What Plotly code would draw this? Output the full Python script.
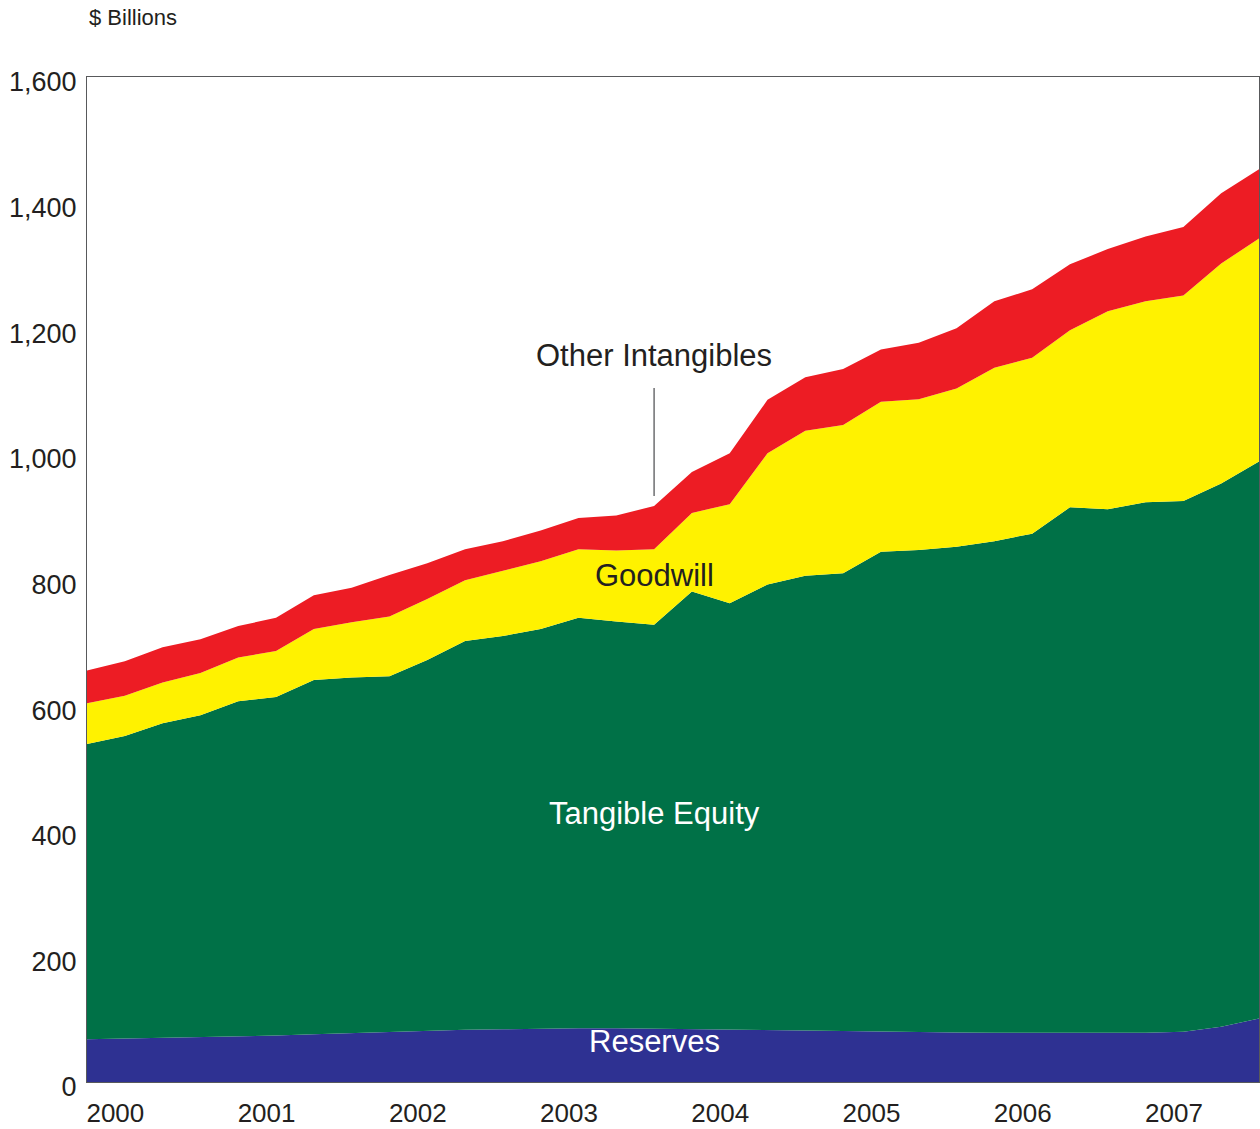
import plotly.graph_objects as go

quarters = list(range(32))
year_labels = ["2000", "2001", "2002", "2003", "2004", "2005", "2006", "2007"]
year_tick_pos = [0.75 + 4 * k for k in range(8)]

reserves = [68, 69, 70.5, 72, 73, 74, 76, 78, 80, 82, 83, 84, 85, 85.5, 85.5, 85,
            84.5, 84, 83.5, 82, 81, 80, 79, 79, 78.5, 78.5, 78.5, 78.5, 78.5, 80, 88, 101]
tangible_equity = [470, 482, 500.5, 512, 533, 539, 564, 566, 566, 590, 619, 626, 636, 653.5, 647.5, 643,
                   696.5, 678, 708.5, 724, 729, 764, 768, 773, 782.5, 794.5, 836.5, 833.5, 844.5, 845, 865, 887]
goodwill = [65, 64, 65, 67, 70, 73, 81, 88, 95, 97, 97, 104, 108, 109, 113, 120,
            125, 158, 209, 231, 236, 239, 240, 252, 276, 280, 282, 315, 320, 327, 350, 355]
other_intangibles = [52, 55, 56, 54, 50, 53, 54, 55, 66, 57, 49, 47, 49, 50, 56, 69,
                     65, 81, 85, 85, 89, 83, 90, 96, 106, 109, 105, 99, 103, 109, 112, 110]

series = [
    ("Reserves", reserves, "#2E3192"),
    ("Tangible Equity", tangible_equity, "#007147"),
    ("Goodwill", goodwill, "#FFF200"),
    ("Other Intangibles", other_intangibles, "#ED1C24"),
]

fig = go.Figure()
for name, vals, color in series:
    fig.add_trace(go.Scatter(
        x=quarters, y=vals, name=name, stackgroup="one", mode="lines",
        line=dict(width=0, color=color), fillcolor=color, hoverinfo="x+y+name"))

FONT = "Liberation Sans, Arial, sans-serif"
labels = [
    ("Other Intangibles", 15, 1156, "#231F20"),
    ("Goodwill", 15, 807, "#231F20"),
    ("Tangible Equity", 15, 428, "#FFFFFF"),
    ("Reserves", 15, 64, "#FFFFFF"),
]
for text, x, y, c in labels:
    fig.add_annotation(x=x, y=y, xref="x", yref="y", text=text, showarrow=False,
                       font=dict(family=FONT, size=31, color=c))

fig.add_shape(type="line", xref="x", yref="y", x0=15, x1=15, y0=933, y1=1105,
              line=dict(color="#6D6E71", width=1.5))

fig.add_annotation(x=0, y=1, xref="paper", yref="paper", yshift=60, xanchor="left", yanchor="middle",
                   text="$ Billions", showarrow=False, font=dict(family=FONT, size=22, color="#231F20"))

fig.update_layout(
    width=1260, height=1129,
    margin=dict(l=87, r=1, t=77, b=47, autoexpand=False),
    paper_bgcolor="white", plot_bgcolor="white",
    showlegend=False,
    font=dict(family=FONT, color="#231F20"),
)
fig.update_xaxes(range=[0, 31], tickvals=year_tick_pos, ticktext=year_labels, automargin=False,
                 showgrid=False, zeroline=False, showline=True, linecolor="#58595B", linewidth=1,
                 mirror=True, ticks="", tickfont=dict(size=26, family=FONT, color="#231F20"),
                 ticklabelstandoff=8)
fig.update_yaxes(range=[0, 1600], tickvals=list(range(0, 1601, 200)), tickformat=",", automargin=False,
                 showgrid=False, zeroline=False, showline=True, linecolor="#58595B", linewidth=1,
                 mirror=True, ticks="", tickfont=dict(size=27, family=FONT, color="#231F20"),
                 ticklabelstandoff=4, ticklabelshift=5)

fig.write_html("out.html", config={"displayModeBar": False},
               post_script="document.body.style.margin='0';document.body.style.padding='0';"
                           "document.documentElement.style.overflow='hidden';")
